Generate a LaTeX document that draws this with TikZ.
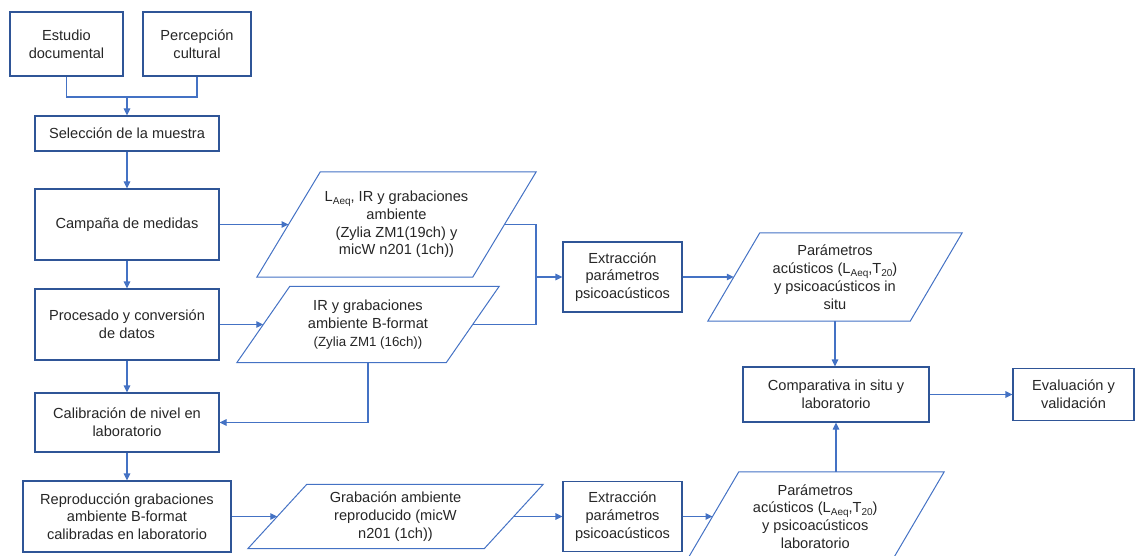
\documentclass[tikz,border=0pt]{standalone}
\usepackage{fontspec}
\setmainfont{Liberation Sans}
\usetikzlibrary{arrows.meta,calc}
\definecolor{boxblue}{HTML}{2F5597}
\definecolor{lineblue}{HTML}{4472C4}
\definecolor{txtgray}{HTML}{262626}
\newcommand\subsc[1]{\raisebox{-0.35ex}{\fontsize{10}{10}\selectfont #1}}
\newcommand\paradraw[2]{%
  \draw[parashape] ($(#1.north west)+(#2,0)$) -- (#1.north east) -- ($(#1.south east)-(#2,0)$) -- (#1.south west) -- cycle;
  \coordinate (#1w) at ($(#1.west)+(#2/2,0)$);
  \coordinate (#1e) at ($(#1.east)-(#2/2,0)$);}
\begin{document}
\begin{tikzpicture}[x=1pt,y=-1pt,
  every node/.style={font=\fontsize{14.6}{17.8}\selectfont, text=txtgray, align=center, inner sep=0pt},
  procbox/.style={draw=boxblue, line width=1.1pt, rectangle},
  paranode/.style={rectangle, draw=none},
  parashape/.style={draw=lineblue, line width=1pt, line join=miter},
  conn/.style={draw=lineblue, line width=1.1pt},
  arr/.style={conn, -{Triangle[length=7pt,width=6.5pt]}}]
\useasboundingbox (0,0) rectangle (1135,556);
% boxes
\node[procbox, minimum width=113pt, minimum height=64pt] (est) at (66.5,44) {Estudio\\documental};
\node[procbox, minimum width=108pt, minimum height=64pt] (per) at (197,44) {Percepción\\cultural};
\node[procbox, minimum width=184pt, minimum height=35pt] (sel) at (127,133.5) {Selección de la muestra};
\node[procbox, minimum width=184pt, minimum height=71pt] (cam) at (127,224.5) {Campaña de medidas};
\node[procbox, minimum width=184pt, minimum height=71pt] (pro) at (127,324.5) {Procesado y conversión\\de datos};
\node[procbox, minimum width=184pt, minimum height=59pt] (cal) at (127,422.5) {Calibración de nivel en\\laboratorio};
\node[procbox, minimum width=208pt, minimum height=71pt] (rep) at (127,516.5) {Reproducción grabaciones\\ambiente B-format\\calibradas en laboratorio};
\node[procbox, minimum width=119pt, minimum height=70pt] (ext1) at (622.5,277) {Extracción\\parámetros\\psicoacústicos};
\node[procbox, minimum width=119pt, minimum height=70pt] (ext2) at (622.5,516.5) {Extracción\\parámetros\\psicoacústicos};
\node[procbox, minimum width=186pt, minimum height=55pt] (comp) at (836,394.5) {Comparativa in situ y\\laboratorio};
\node[procbox, minimum width=121pt, minimum height=52pt] (eval) at (1073.5,394.5) {Evaluación y\\validación};
% parallelograms
\node[paranode, minimum width=279pt, minimum height=105pt] (pa) at (396.5,224.5)
  {L\subsc{Aeq}, IR y grabaciones\\ambiente\\(Zylia ZM1(19ch) y\\micW n201 (1ch))};
\paradraw{pa}{63.5}
\node[paranode, minimum width=262pt, minimum height=76pt] (pb) at (368,324.5)
  {IR y grabaciones\\ambiente B-format\\{\fontsize{13.3}{16}\selectfont (Zylia ZM1 (16ch))}};
\paradraw{pb}{53}
\node[paranode, minimum width=295pt, minimum height=64pt] (pc) at (395.5,516.5)
  {Grabación ambiente\\reproducido (micW\\n201 (1ch))};
\paradraw{pc}{59}
\node[paranode, minimum width=254pt, minimum height=88pt] (pd) at (835,277)
  {Parámetros\\acústicos (L\subsc{Aeq},T\subsc{20})\\y psicoacústicos in\\situ};
\paradraw{pd}{52}
\node[paranode, minimum width=257.5pt, minimum height=89pt] (pe) at (815.25,516.5)
  {Parámetros\\acústicos (L\subsc{Aeq},T\subsc{20})\\y psicoacústicos\\laboratorio};
\paradraw{pe}{52.5}
% connectors
\coordinate (j1) at (127,97);
\draw[conn] (est.south) |- (j1) -| (per.south);
\draw[arr] (j1) -- (sel.north);
\draw[arr] (sel.south) -- (cam.north);
\draw[arr] (cam.east) -- (paw);
\draw[arr] (cam.south) -- (pro.north);
\draw[arr] (pro.east) -- (pbw);
\draw[arr] (pro.south) -- (cal.north);
\draw[arr] (pb.south) |- (cal.east);
\draw[arr] (cal.south) -- (rep.north);
\draw[arr] (rep.east) -- (pcw);
\draw[arr] (pce) -- (ext2.west);
\draw[arr] (ext2.east) -- (pew);
\coordinate (j2) at (536,277);
\draw[conn] (pae) -| (j2) |- (pbe);
\draw[arr] (j2) -- (ext1.west);
\draw[arr] (ext1.east) -- (pdw);
\draw[arr] (pd.south) -- (pd.south |- comp.north);
\draw[arr] (comp.south |- pe.north) -- (comp.south);
\draw[arr] (comp.east) -- (eval.west);
\end{tikzpicture}
\end{document}
